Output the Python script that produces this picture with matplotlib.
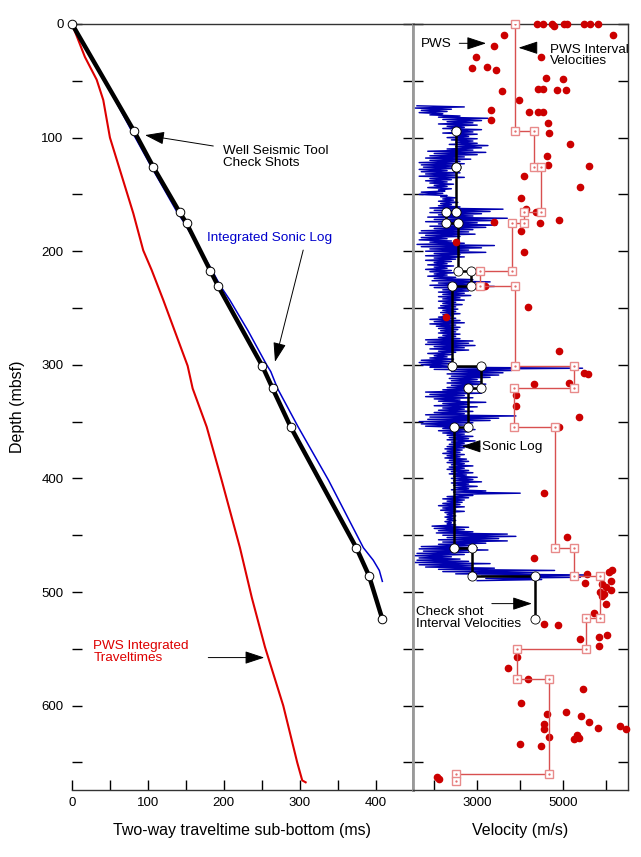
import matplotlib
matplotlib.use('Agg')
import matplotlib.pyplot as plt
import numpy as np

plt.rcParams['font.family'] = ['Liberation Sans', 'DejaVu Sans']

# ---------------- Left panel data (two-way time ms, depth mbsf) ----------------
cs_time = [0, 81.7, 107, 141.9, 151, 182.2, 192.8, 250.7, 264.4, 288.1, 374.6, 391.3, 408.8]
cs_depth = [0, 94.2, 125.7, 165.8, 175.5, 217, 231, 300.9, 320.8, 354.6, 460.9, 485.5, 523.4]

isl_time = [0, 40, 78.5, 104, 138, 148, 183, 196, 208, 232, 256.5, 262, 271, 298, 338, 384, 397, 405, 409]
isl_depth = [0, 46, 94, 125, 165, 175, 215, 231, 243, 270, 300, 306, 321, 354.6, 401.5, 461, 472, 481, 490.6]

pws_time = [0, 17, 32.5, 41.2, 50, 80.8, 93.9, 105, 120.3, 152.4, 159, 177.5, 197.2, 221.3, 237, 254.3, 278.4, 296.8, 303.4, 307.9]
pws_depth = [0, 29, 49, 66.9, 100, 166.7, 199.3, 216.6, 243, 300.9, 320.8, 354.6, 401.5, 460.9, 505, 548.4, 600, 650, 665.8, 667.5]

# ---------------- Right panel data (velocity m/s, depth mbsf) ----------------
cs_int_vel = [2500, 2500, 2280, 2560, 2850, 2406, 3083, 2794, 2455, 2887, 4350]  # between cs_depth[1:]

pws_bounds = [0, 94.2, 125.7, 165.8, 175.5, 217, 231, 300.9, 320.8, 354.6, 460.9, 485.5,
              522.5, 549.8, 576.8, 659.9, 666.4]
pws_int_vel = [3883, 4311, 4490, 4094, 3806, 3067, 3870, 5244, 3867, 4817, 5244, 5867,
               5541, 3937, 4660, 2506]

pws_pt_vel = [4390, 4530, 4740, 4777, 5011, 5090, 5494, 5634, 5814,
              3634, 6164, 3400, 4490, 2973, 2880, 3223, 3440, 4591, 5004,
              3573, 4413, 4530, 4847, 5074, 3970, 3316, 4210, 4413, 4521,
              3316, 4637, 4661, 5151, 4630, 4647, 5611, 4077, 5384, 4007,
              4140, 4374, 3393, 4451, 4904, 4024, 2499, 4094, 3183,
              4180, 2266, 4904, 5478, 5571, 4311, 5128, 3907, 3900, 5377,
              4894, 4544, 5090, 4327, 5557, 6124, 6061, 5517, 6117, 5907,
              5984, 6101, 5867, 5960, 5907, 5984, 5727,
              4560, 4887, 5401, 5837, 6008, 5837, 3923, 3713, 4171, 5471,
              4017, 4623, 5074, 5424, 5611, 4544, 4544, 5814, 6311, 6467,
              4661, 5324, 5261, 5361, 3984, 4490, 2070, 2117]
pws_pt_depth = [0, 0, 0, 1.8, 0, 0, 0, 0, 0,
                9.7, 9.4, 19.1, 29.1, 28.8, 38.5, 38.1, 40.2, 47.3, 48.4,
                58.7, 57.5, 57.5, 58.4, 58.4, 66.7, 75.7, 77.2, 77.2, 77.2,
                84.8, 86.9, 96.0, 105.4, 116.0, 124.4, 125.3, 134.1, 143.6, 153.0,
                162.9, 165.6, 174.4, 175.3, 172.6, 182.3, 191.5, 201.1, 230.7,
                249.0, 257.5, 287.4, 307.6, 308.2, 317.0, 316.4, 326.7, 336.2, 346.1,
                354.9, 413.0, 451.8, 470.3, 484.4, 480.9, 482.3, 492.0, 490.3, 493.2,
                495.6, 497.9, 500.0, 501.4, 503.8, 510.2, 518.7,
                528.4, 529.3, 541.0, 539.6, 538.1, 547.8, 557.2, 566.9, 576.9, 585.7,
                597.4, 607.4, 605.9, 609.2, 614.7, 615.9, 620.6, 620.0, 618.3, 620.9,
                627.9, 625.6, 629.1, 628.5, 633.8, 635.6, 662.6, 664.3]

# Sonic log: velocity at 1 m samples starting at 72 mbsf
sonic_top = 72
sonic_vel = [
    1600, 2700, 1550, 2400, 1700, 2300, 1650, 2200, 1900, 2600,
    2100, 3250, 2200, 3100, 2300, 2900, 2100, 3000, 2300, 2700,
    2200, 3100, 2400, 2900, 2200, 3000, 2500, 2800, 2300, 3000,
    2400, 2900, 2500, 3000, 2350, 3250, 2500, 3100, 2300, 2900,
    1850, 3200, 2000, 3000, 1900, 2700, 1800, 2850, 1900, 2600,
    1650, 2700, 1700, 2500, 1750, 2600, 1650, 2300, 1700, 2600,
    1800, 2500, 1650, 2700, 1900, 2400, 1800, 2300, 1900, 2450,
    2000, 2300, 1850, 2400, 2100, 2250, 1700, 2200, 1650, 2300,
    2150, 2500, 2200, 2450, 2100, 2550, 2150, 2400, 2100, 2600,
    1900, 3600, 2000, 3300, 1900, 3100, 2100, 2900, 1850, 3700,
    2000, 3400, 1800, 3000, 2100, 3450, 1900, 3200, 2000, 2900,
    1700, 2800, 1650, 2950, 1800, 2600, 1700, 2300, 1650, 2400,
    1900, 2700, 1600, 3400, 1700, 3100, 1900, 2800, 1800, 3200,
    2000, 2600, 1800, 2700, 2000, 2500, 1800, 2400, 2000, 2300,
    1850, 2450, 2000, 2300, 1800, 2400, 1900, 2450, 2000, 2300,
    1850, 2500, 2000, 2900, 1950, 3300, 2100, 2800, 1900, 3400,
    2000, 3000, 2200, 2800, 2100, 2700, 2200, 2850, 2100, 2600,
    2200, 2700, 2100, 2500, 2200, 2650, 2150, 2500, 2100, 2550,
    2200, 2500, 2150, 2600, 2200, 2450, 2100, 2500, 1900, 2600,
    2000, 2700, 1900, 2500, 2050, 2600, 2100, 2550, 2150, 2500,
    2100, 2600, 2200, 2500, 2100, 2600, 1800, 2900, 1850, 2800,
    1800, 2950, 2000, 2700, 1900, 2800, 2100, 2500, 1850, 2400,
    2000, 2300, 1900, 2450, 1700, 2400, 1650, 2500, 1700, 2300,
    1900, 5450, 2000, 3800, 2400, 3600, 2300, 3500, 2400, 3300,
    2350, 3000, 2400, 3100, 2300, 3200, 2400, 2900, 2300, 3000,
    2200, 2800, 1800, 3100, 1900, 2700, 1800, 2900, 2000, 2600,
    2100, 3200, 2200, 2800, 2000, 3000, 2200, 2700, 2100, 2900,
    2000, 2700, 1800, 3900, 1900, 3500, 1850, 3300, 1650, 2900,
    1700, 2700, 1800, 2600, 2200, 2950, 2100, 2800, 2200, 2700,
    2300, 2900, 2350, 2800, 2300, 2950, 2400, 2700, 2350, 2800,
    2300, 2700, 2250, 2650, 2300, 2600, 2200, 2700, 2300, 2600,
    2250, 2750, 2350, 2800, 2300, 2700, 2400, 2900, 2350, 2700,
    2300, 2800, 2400, 2900, 2350, 2750, 2450, 3000, 2400, 2900,
    2450, 3100, 2400, 2800, 2450, 3000, 2500, 2800, 2400, 3200,
    2450, 4000, 2500, 2900, 2300, 2800, 2200, 2700, 2300, 2650,
    2200, 2600, 2100, 2700, 2200, 2500, 2150, 2700, 2250, 2450,
    2300, 2500, 2250, 2450, 2300, 2500, 2250, 2400, 2300, 2500,
    1950, 2800, 2000, 2700, 2100, 2900, 2050, 3700, 2200, 3900,
    2300, 3500, 2100, 3700, 2200, 3200, 2100, 2900, 1700, 3000,
    1650, 3250, 1750, 2800, 1600, 2700, 1550, 2400, 1650, 2600,
    1600, 2800, 1550, 3300, 1650, 2900, 1800, 3400, 2100, 4800,
    2200, 4300, 2500, 5600, 3100, 5400, 3200, 4500, 3000,
]
sonic_depth = sonic_top + np.arange(len(sonic_vel))


def steps(bounds, vels):
    xs, ys = [], []
    for i, v in enumerate(vels):
        xs += [v, v]
        ys += [bounds[i], bounds[i + 1]]
    return xs, ys


fig = plt.figure(figsize=(6.41, 8.57), dpi=100)
L, R, MID = 72 / 641, 627.7 / 641, 412.7 / 641
B, T = 1 - 789.7 / 857, 1 - 24 / 857
ax1 = fig.add_axes([L, B, MID - L, T - B])
ax2 = fig.add_axes([MID, B, R - MID, T - B])

FS_TICK = 9.5
FS_ANN = 9.7
FS_LAB = 11.5
arrow_kw = dict(arrowstyle='-|>,head_length=1.0,head_width=0.33', color='black', lw=0.7,
                mutation_scale=12, shrinkA=0, shrinkB=0)

# ---------- left panel ----------
ax1.plot(pws_time, pws_depth, color='#dd0000', lw=1.5, zorder=2)
ax1.plot(isl_time, isl_depth, color='#0000cc', lw=1.1, zorder=3)
ax1.plot(cs_time, cs_depth, color='black', lw=3.2, zorder=4, solid_capstyle='round')
ax1.plot(cs_time, cs_depth, 'o', ms=6.2, mfc='white', mec='black', mew=0.7, zorder=5, clip_on=False)

ax1.set_xlim(0, 449)
ax1.set_ylim(674, 0)
ax1.set_xticks(np.arange(0, 450, 50))
ax1.set_xticklabels(['0', '', '100', '', '200', '', '300', '', '400'])
ax1.set_yticks(np.arange(0, 674, 50))
ax1.set_yticklabels([str(v) if v % 100 == 0 else '' for v in range(0, 674, 50)])
ax1.tick_params(axis='both', direction='in', length=7, width=1, labelsize=FS_TICK, color='black')
ax1.tick_params(axis='y', left=True, right=True, pad=6)
ax1.tick_params(axis='x', pad=5)
ax1.spines['left'].set_visible(False)
ax1.spines['right'].set_color('#999999')
ax1.spines['right'].set_linewidth(2)
for s in ['top', 'bottom']:
    ax1.spines[s].set_color('#333333')
    ax1.spines[s].set_linewidth(1)
ax1.set_xlabel('Two-way traveltime sub-bottom (ms)', fontsize=FS_LAB, labelpad=10)
ax1.set_ylabel('Depth (mbsf)', fontsize=FS_LAB, labelpad=12)

ax1.text(198.5, 116.9, 'Well Seismic Tool\nCheck Shots', fontsize=FS_ANN, ha='left', va='center',
         linespacing=0.95)
ax1.annotate('', xy=(96.2, 97.8), xytext=(186.2, 107.4), arrowprops=arrow_kw)
ax1.text(178.3, 188.5, 'Integrated Sonic Log', fontsize=FS_ANN, color='#0000cc', ha='left', va='center')
ax1.annotate('', xy=(267.5, 297.4), xytext=(304.7, 199), arrowprops=arrow_kw)
ax1.text(28.1, 552.8, 'PWS Integrated\nTraveltimes', fontsize=FS_ANN, color='#dd0000', ha='left',
         va='center', linespacing=0.95)
ax1.annotate('', xy=(253.4, 557.7), xytext=(179.6, 557.7), arrowprops=arrow_kw)

# ---------- right panel ----------
ax2.plot(sonic_vel, sonic_depth, color='#0000b0', lw=1.05, zorder=2)
cx, cy = steps(cs_depth[1:], cs_int_vel)
ax2.plot(cx, cy, color='black', lw=1.8, zorder=3)
ax2.plot(cx, cy, 'o', ms=6.6, mfc='white', mec='black', mew=0.6, zorder=4)
ax2.plot(pws_pt_vel, pws_pt_depth, 'o', ms=4.5, color='#cc0000', mec='#cc0000', zorder=5, clip_on=False)
px, py = steps(pws_bounds, pws_int_vel)
ax2.plot(px, py, color='#d85050', lw=1.0, zorder=6)
ax2.plot(px, py, 's', ms=6.4, mfc='white', mec='#e88a8a', mew=1.0, zorder=7, clip_on=False)
ax2.plot(px, py, '.', ms=1.2, color='#e06060', zorder=8)

ax2.set_xlim(1500, 6500)
ax2.set_ylim(674, 0)
ax2.set_xticks([2000, 3000, 4000, 5000, 6000])
ax2.set_xticklabels(['', '3000', '', '5000', ''])
ax2.set_yticks(np.arange(0, 674, 50))
ax2.set_yticklabels([])
ax2.tick_params(axis='both', direction='in', length=7, width=1, labelsize=FS_TICK, color='black')
ax2.tick_params(axis='y', left=True, right=True)
ax2.tick_params(axis='x', pad=5)
ax2.spines['left'].set_color('#999999')
ax2.spines['left'].set_linewidth(2)
for s in ['top', 'bottom', 'right']:
    ax2.spines[s].set_color('#333333')
    ax2.spines[s].set_linewidth(1)
ax2.set_xlabel('Velocity (m/s)', fontsize=FS_LAB, labelpad=10)

ax2.text(1683, 17.9, 'PWS', fontsize=FS_ANN, ha='left', va='center')
ax2.annotate('', xy=(3207, 17), xytext=(2583, 17), arrowprops=arrow_kw)
ax2.text(4684, 27.6, 'PWS Interval\nVelocities', fontsize=FS_ANN, ha='left', va='center', linespacing=0.95)
ax2.annotate('', xy=(3961, 20.9), xytext=(4352, 20.9), arrowprops=arrow_kw)
ax2.text(3106, 372.5, 'Sonic Log', fontsize=FS_ANN, ha='left', va='center')
ax2.annotate('', xy=(2640, 371.7), xytext=(3064, 371.7), arrowprops=arrow_kw)
ax2.text(1573, 523.1, 'Check shot\nInterval Velocities', fontsize=FS_ANN, ha='left', va='center',
         linespacing=0.95)
ax2.annotate('', xy=(4273, 510.2), xytext=(3340, 510.2), arrowprops=arrow_kw)

fig.savefig('out.png', dpi=100)
